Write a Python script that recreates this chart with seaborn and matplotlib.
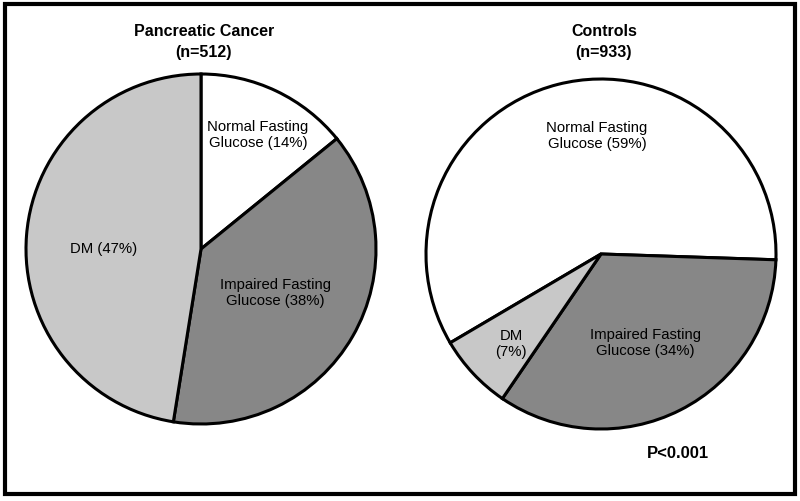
import matplotlib
matplotlib.use("Agg")
import matplotlib.pyplot as plt
import seaborn as sns
from matplotlib.patches import Rectangle

sns.set_theme(style="white")
plt.rcParams["font.family"] = ["Liberation Sans", "DejaVu Sans"]
plt.rcParams["text.color"] = "black"

# data
categories = ["Normal Fasting Glucose", "Impaired Fasting Glucose", "DM"]
cancer_pct = [14, 38, 47]
control_pct = [59, 34, 7]
colors = ["#ffffff", "#878787", "#c8c8c8"]

fig = plt.figure(figsize=(8, 5.02), dpi=100)
ax = fig.add_axes([0, 0, 1, 1])

wedge_style = {"edgecolor": "black", "linewidth": 2.2}
R = 175

ax.pie(cancer_pct, colors=colors, startangle=90, counterclock=False,
       center=(201, 252), radius=R, wedgeprops=wedge_style, frame=True)
ax.pie(control_pct, colors=colors, startangle=210.5, counterclock=False,
       center=(601, 247), radius=R, wedgeprops=wedge_style, frame=True)
ax.set_xlim(0, 800)
ax.set_ylim(0, 502)
ax.set_aspect("auto")
ax.axis("off")

title_kw = dict(ha="center", va="center", fontsize=11.5, fontweight="bold", color="black")
ax.text(204, 470, "Pancreatic Cancer", **title_kw)
ax.text(204, 449, "(n=512)", **title_kw)
ax.text(604, 470, "Controls", **title_kw)
ax.text(604, 449, "(n=933)", **title_kw)

lab_kw = dict(ha="center", va="center", fontsize=10.7, linespacing=1.2, color="black")
ax.text(258, 367, "Normal Fasting\nGlucose (14%)", **lab_kw)
ax.text(275, 209, "Impaired Fasting\nGlucose (38%)", **lab_kw)
ax.text(104, 253, "DM (47%)", **lab_kw)
ax.text(597, 366, "Normal Fasting\nGlucose (59%)", **lab_kw)
ax.text(645, 159, "Impaired Fasting\nGlucose (34%)", **lab_kw)
ax.text(511, 158, "DM\n(7%)", **lab_kw)

ax.text(678, 48, "P<0.001", ha="center", va="center", fontsize=12,
        fontweight="bold", color="black")

fig.patches.append(Rectangle((5, 7), 790, 490, transform=None, fill=False,
                             edgecolor="black", linewidth=3))

fig.savefig("out.png", dpi=100, facecolor="white")
